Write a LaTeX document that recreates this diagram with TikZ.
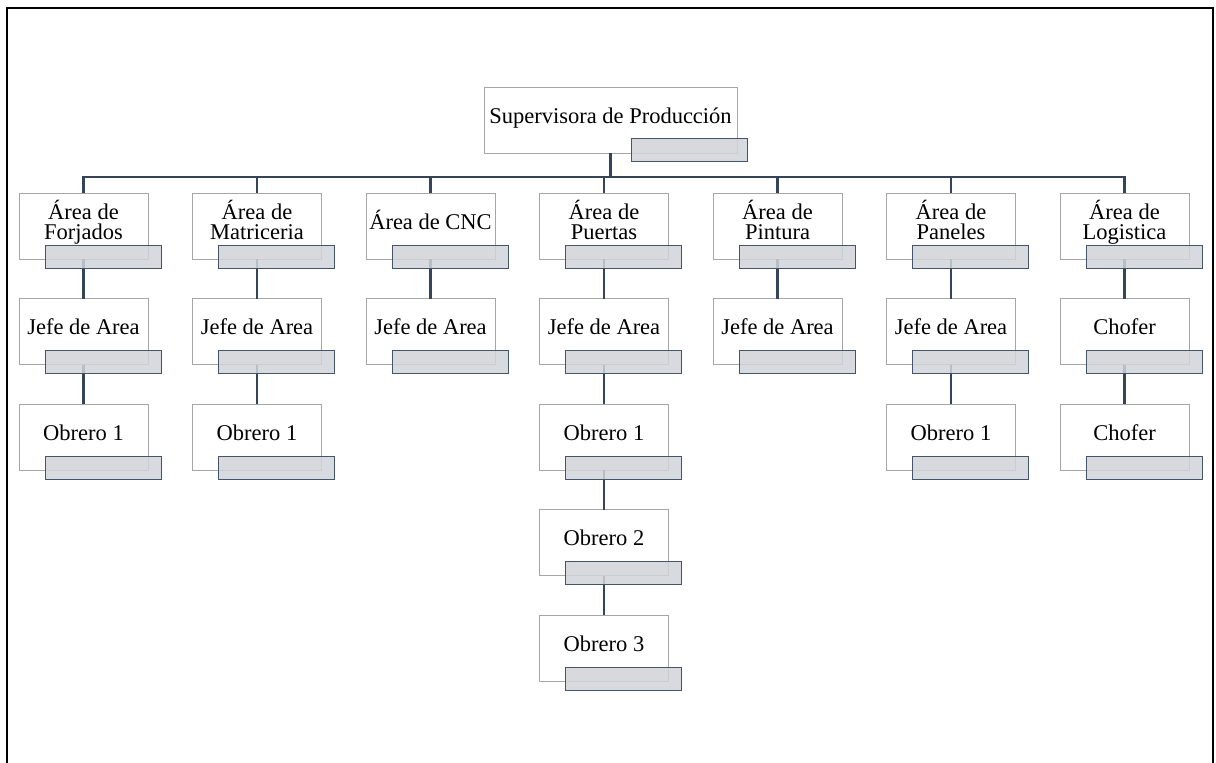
\documentclass[tikz,border=0pt]{standalone}
\usepackage{fontspec}
\setmainfont{Liberation Serif}
\definecolor{boxgray}{HTML}{A6A6A6}
\definecolor{barfill}{HTML}{D0D3D8}
\definecolor{barline}{HTML}{44546A}
\definecolor{connc}{HTML}{36445A}
\tikzset{
  box/.style={draw=boxgray, line width=1pt, fill=white, minimum width=129pt, minimum height=66pt, inner sep=0pt, outer sep=0pt},
  bar/.style={draw=barline, line width=1pt, fill=barfill, fill opacity=0.85, minimum width=116pt, minimum height=23pt, inner sep=0pt},
  lbl/.style={font=\fontsize{22.5}{20}\selectfont, align=center, inner sep=0pt, anchor=base},
  conn/.style={draw=connc, line width=2.6pt}
}
\begin{document}
\begin{tikzpicture}[x=1pt,y=-1pt]
\useasboundingbox (0,0) rectangle (1216,763);
\draw[line width=2pt, black] (7,8) rectangle (1213,775);
% boxes
\node[box, minimum width=253pt] (top) at (610.5,120) {};
\foreach \n/\cx in {a0/83.5,a1/257,a2/430.5,a3/604,a4/777.5,a5/951,a6/1124.5}{
  \node[box] (\n) at (\cx,226) {};
}
\foreach \n/\cx/\cy in {b0/83.5/331.5, c0/83.5/437, b1/257/331.5, c1/257/437, b2/430.5/331.5, b3/604/331.5, c3/604/437, d3/604/542.5, e3/604/648, b4/777.5/331.5, b5/951/331.5, c5/951/437, b6/1124.5/331.5, c6/1124.5/437}{
  \node[box] (\n) at (\cx,\cy) {};
}
% connectors
\coordinate (hl) at (0,177);
\draw[conn] (top.south) -- (top.south |- hl);
\draw[conn] (a0.north) -- (a0.north |- hl) -- (a6.north |- hl) -- (a6.north);
\foreach \n in {a1,a2,a3,a4,a5}{
  \draw[conn] (\n.north) -- (\n.north |- hl);
}
\draw[conn] (a0.south) -- (b0.north);
\draw[conn] (b0.south) -- (c0.north);
\draw[conn] (a1.south) -- (b1.north);
\draw[conn] (b1.south) -- (c1.north);
\draw[conn] (a2.south) -- (b2.north);
\draw[conn] (a3.south) -- (b3.north);
\draw[conn] (b3.south) -- (c3.north);
\draw[conn] (c3.south) -- (d3.north);
\draw[conn] (d3.south) -- (e3.north);
\draw[conn] (a4.south) -- (b4.north);
\draw[conn] (a5.south) -- (b5.north);
\draw[conn] (b5.south) -- (c5.north);
\draw[conn] (a6.south) -- (b6.north);
\draw[conn] (b6.south) -- (c6.north);
% bars
\node[bar] (topbar) at (689,150) {};
\foreach \n in {a0,a1,a2,a3,a4,a5,a6,b0,c0,b1,c1,b2,b3,c3,d3,e3,b4,b5,c5,b6,c6}{
  \node[bar] (\n bar) at ([xshift=19.5pt,yshift=-30.5pt]\n.center) {};
}
% labels
\node[lbl] (toptxt) at (610.5,123) {Supervisora de Producción};
\node[lbl] (a0txt) at (83.5,239.5) {Área de\\Forjados};
\node[lbl] (a1txt) at (257,239.5) {Área de\\Matriceria};
\node[lbl] (a2txt) at (430.5,229.5) {Área de CNC};
\node[lbl] (a3txt) at (604,239.5) {Área de\\Puertas};
\node[lbl] (a4txt) at (777.5,239.5) {Área de\\Pintura};
\node[lbl] (a5txt) at (951,239.5) {Área de\\Paneles};
\node[lbl] (a6txt) at (1124.5,239.5) {Área de\\Logistica};
\foreach \n/\t in {b0/Jefe de Area, c0/Obrero 1, b1/Jefe de Area, c1/Obrero 1, b2/Jefe de Area, b3/Jefe de Area, c3/Obrero 1, d3/Obrero 2, e3/Obrero 3, b4/Jefe de Area, b5/Jefe de Area, c5/Obrero 1, b6/Chofer, c6/Chofer}{
  \node[lbl] (\n txt) at ([yshift=-3pt]\n.center) {\t};
}
\end{tikzpicture}
\end{document}
